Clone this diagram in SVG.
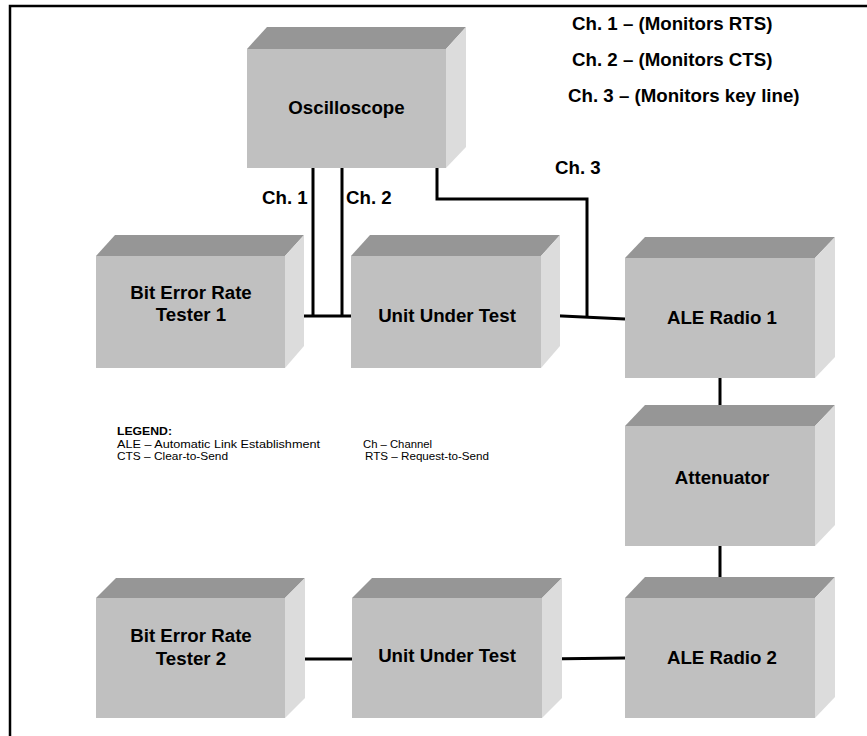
<svg xmlns="http://www.w3.org/2000/svg" width="867" height="736" viewBox="0 0 867 736">
  <style>
    .front { fill: #c0c0c0; }
    .top { fill: #969696; }
    .side { fill: #dcdcdc; }
    .lbl { font-family: "Liberation Sans", Arial, sans-serif; font-weight: bold; font-size: 18.7px; fill: #000; }
    .mid { text-anchor: middle; }
    .leg { font-family: "Liberation Sans", Arial, sans-serif; font-size: 11px; fill: #000; }
    .legb { font-weight: bold; }
    .wire { stroke: #000; stroke-width: 3; fill: none; }
    .frame { stroke: #000; stroke-width: 2.5; fill: none; }
  </style>

  <rect width="867" height="736" fill="#fff"/>
  <!-- page frame: top and left rules -->
  <path class="frame" d="M10,736 V6 H867"/>

  <!-- channel key -->
  <g id="channel-key">
    <text class="lbl" x="572" y="30">Ch. 1 – (Monitors RTS)</text>
    <text class="lbl" x="572" y="66">Ch. 2 – (Monitors CTS)</text>
    <text class="lbl" x="568" y="102">Ch. 3 – (Monitors key line)</text>
  </g>

  <!-- connectors -->
  <g id="connectors">
    <line class="wire" x1="285" y1="316" x2="351" y2="316"/>
    <line class="wire" x1="313" y1="168" x2="313" y2="316"/>
    <line class="wire" x1="342" y1="168" x2="342" y2="316"/>
    <polyline class="wire" points="437,168 437,199 587,199 587,317"/>
    <line class="wire" x1="541" y1="315" x2="625" y2="319"/>
    <line class="wire" x1="720" y1="378" x2="720" y2="426"/>
    <line class="wire" x1="720" y1="546" x2="720" y2="598"/>
    <line class="wire" x1="285" y1="659" x2="352" y2="659"/>
    <line class="wire" x1="542" y1="659" x2="625" y2="658"/>
    <text class="lbl" x="262" y="204">Ch. 1</text>
    <text class="lbl" x="346" y="204">Ch. 2</text>
    <text class="lbl" x="555" y="174">Ch. 3</text>
  </g>

  <!-- Oscilloscope -->
  <g id="oscilloscope">
    <polygon class="top" points="247,49 267,27 466,27 446,49"/>
    <polygon class="side" points="446,49 466,27 466,147 446,168"/>
    <rect class="front" x="247" y="49" width="199" height="119"/>
    <text class="lbl mid" x="346.5" y="114">Oscilloscope</text>
  </g>

  <!-- Bit Error Rate Tester 1 -->
  <g id="bert1">
    <polygon class="top" points="96,256 115,235 304,235 285,256"/>
    <polygon class="side" points="285,256 304,235 304,346 285,368"/>
    <rect class="front" x="96" y="256" width="189" height="112"/>
    <text class="lbl mid" x="191" y="299">Bit Error Rate</text>
    <text class="lbl mid" x="191" y="321">Tester 1</text>
  </g>

  <!-- Unit Under Test 1 -->
  <g id="uut1">
    <polygon class="top" points="351,256 370,235 560,235 541,256"/>
    <polygon class="side" points="541,256 560,235 560,346 541,368"/>
    <rect class="front" x="351" y="256" width="190" height="112"/>
    <text class="lbl mid" x="447" y="322">Unit Under Test</text>
  </g>

  <!-- ALE Radio 1 -->
  <g id="ale-radio-1">
    <polygon class="top" points="625,258 645,237 835,237 815,258"/>
    <polygon class="side" points="815,258 835,237 835,357 815,378"/>
    <rect class="front" x="625" y="258" width="190" height="120"/>
    <text class="lbl mid" x="722" y="324">ALE Radio 1</text>
  </g>

  <!-- Attenuator -->
  <g id="attenuator">
    <polygon class="top" points="625,426 645,405 835,405 815,426"/>
    <polygon class="side" points="815,426 835,405 835,525 815,546"/>
    <rect class="front" x="625" y="426" width="190" height="120"/>
    <text class="lbl mid" x="722" y="484">Attenuator</text>
  </g>

  <!-- Bit Error Rate Tester 2 -->
  <g id="bert2">
    <polygon class="top" points="96,598 116,578 305,578 285,598"/>
    <polygon class="side" points="285,598 305,578 305,698 285,718"/>
    <rect class="front" x="96" y="598" width="189" height="120"/>
    <text class="lbl mid" x="191" y="642">Bit Error Rate</text>
    <text class="lbl mid" x="191" y="665">Tester 2</text>
  </g>

  <!-- Unit Under Test 2 -->
  <g id="uut2">
    <polygon class="top" points="352,598 372,578 562,578 542,598"/>
    <polygon class="side" points="542,598 562,578 562,698 542,718"/>
    <rect class="front" x="352" y="598" width="190" height="120"/>
    <text class="lbl mid" x="447" y="662">Unit Under Test</text>
  </g>

  <!-- ALE Radio 2 -->
  <g id="ale-radio-2">
    <polygon class="top" points="625,598 645,577 835,577 815,598"/>
    <polygon class="side" points="815,598 835,577 835,697 815,718"/>
    <rect class="front" x="625" y="598" width="190" height="120"/>
    <text class="lbl mid" x="722" y="664">ALE Radio 2</text>
  </g>

  <!-- legend: abbreviations used above -->
  <g id="legend">
    <text class="leg legb" x="117" y="435" textLength="55" lengthAdjust="spacingAndGlyphs">LEGEND:</text>
    <text class="leg" x="117" y="447.5" textLength="203" lengthAdjust="spacingAndGlyphs">ALE – Automatic Link Establishment</text>
    <text class="leg" x="363" y="447.5" textLength="69" lengthAdjust="spacingAndGlyphs">Ch – Channel</text>
    <text class="leg" x="117" y="460" textLength="111" lengthAdjust="spacingAndGlyphs">CTS – Clear-to-Send</text>
    <text class="leg" x="365" y="460" textLength="124" lengthAdjust="spacingAndGlyphs">RTS – Request-to-Send</text>
  </g>
</svg>
